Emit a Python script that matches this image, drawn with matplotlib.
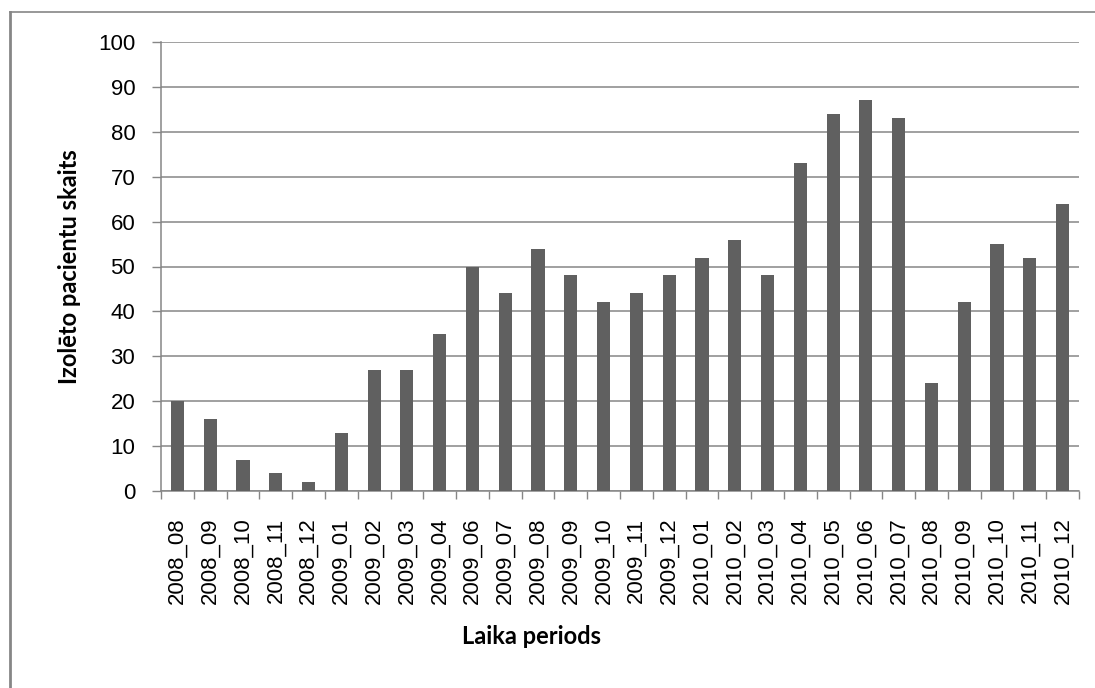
import matplotlib
matplotlib.use("Agg")
import matplotlib.pyplot as plt
from matplotlib.lines import Line2D
import numpy as np

# Monthly periods and number of isolated patients
periods = ["2008_08", "2008_09", "2008_10", "2008_11", "2008_12",
           "2009_01", "2009_02", "2009_03", "2009_04", "2009_06", "2009_07",
           "2009_08", "2009_09", "2009_10", "2009_11", "2009_12",
           "2010_01", "2010_02", "2010_03", "2010_04", "2010_05", "2010_06",
           "2010_07", "2010_08", "2010_09", "2010_10", "2010_11", "2010_12"]
patients = [20, 16, 7, 4, 2,
            13, 27, 27, 35, 50, 44,
            54, 48, 42, 44, 48,
            52, 56, 48, 73, 84, 87,
            83, 24, 42, 55, 52, 64]
y_ticks = [0, 10, 20, 30, 40, 50, 60, 70, 80, 90, 100]

grid_col = "#868686"
bar_col = "#606060"

fig = plt.figure(figsize=(10.95, 6.88), dpi=100)
ax = fig.add_axes([161 / 1095, 1 - 491 / 688, (1079 - 161) / 1095, (491 - 42) / 688])

x = np.arange(len(periods))
ax.bar(x, patients, width=0.4, color=bar_col, zorder=3)

ax.set_xlim(-0.5, len(periods) - 0.5)
ax.set_ylim(0, 100)
ax.set_yticks(y_ticks)
ax.set_yticklabels([str(v) for v in y_ticks], fontsize=16, family="Liberation Sans")
ax.yaxis.grid(True, color=grid_col, linewidth=1.1, zorder=0)
ax.tick_params(axis="y", length=6.5, width=1, color=grid_col, pad=12)

# category labels at the bar centres, tick marks at the category boundaries
ax.set_xticks(x)
ax.set_xticklabels(periods, rotation=90, fontsize=16, family="Liberation Sans")
ax.tick_params(axis="x", which="major", length=0, pad=19)
ax.set_xticks(np.arange(len(periods) + 1) - 0.5, minor=True)
ax.tick_params(axis="x", which="minor", length=6, width=1, color=grid_col)

for side in ("top", "right"):
    ax.spines[side].set_visible(False)
for side in ("left", "bottom"):
    ax.spines[side].set_color(grid_col)
    ax.spines[side].set_linewidth(1.1)

ax.set_ylabel("Izolēto pacientu skaits", fontsize=17, fontweight="bold",
              family="Lato", labelpad=12)
fig.text(532 / 1095, 1 - 636 / 688, "Laika periods", fontsize=17,
         fontweight="bold", family="Lato", ha="center", va="center")

# outer chart-area border (left and top edges)
fig.add_artist(Line2D([9.5 / 1095, 9.5 / 1095], [0, 1 - 12 / 688],
                      transform=fig.transFigure, color=grid_col, linewidth=2))
fig.add_artist(Line2D([9.5 / 1095, 1], [1 - 12 / 688, 1 - 12 / 688],
                      transform=fig.transFigure, color=grid_col, linewidth=1.2))

fig.savefig("out.png", dpi=100)
